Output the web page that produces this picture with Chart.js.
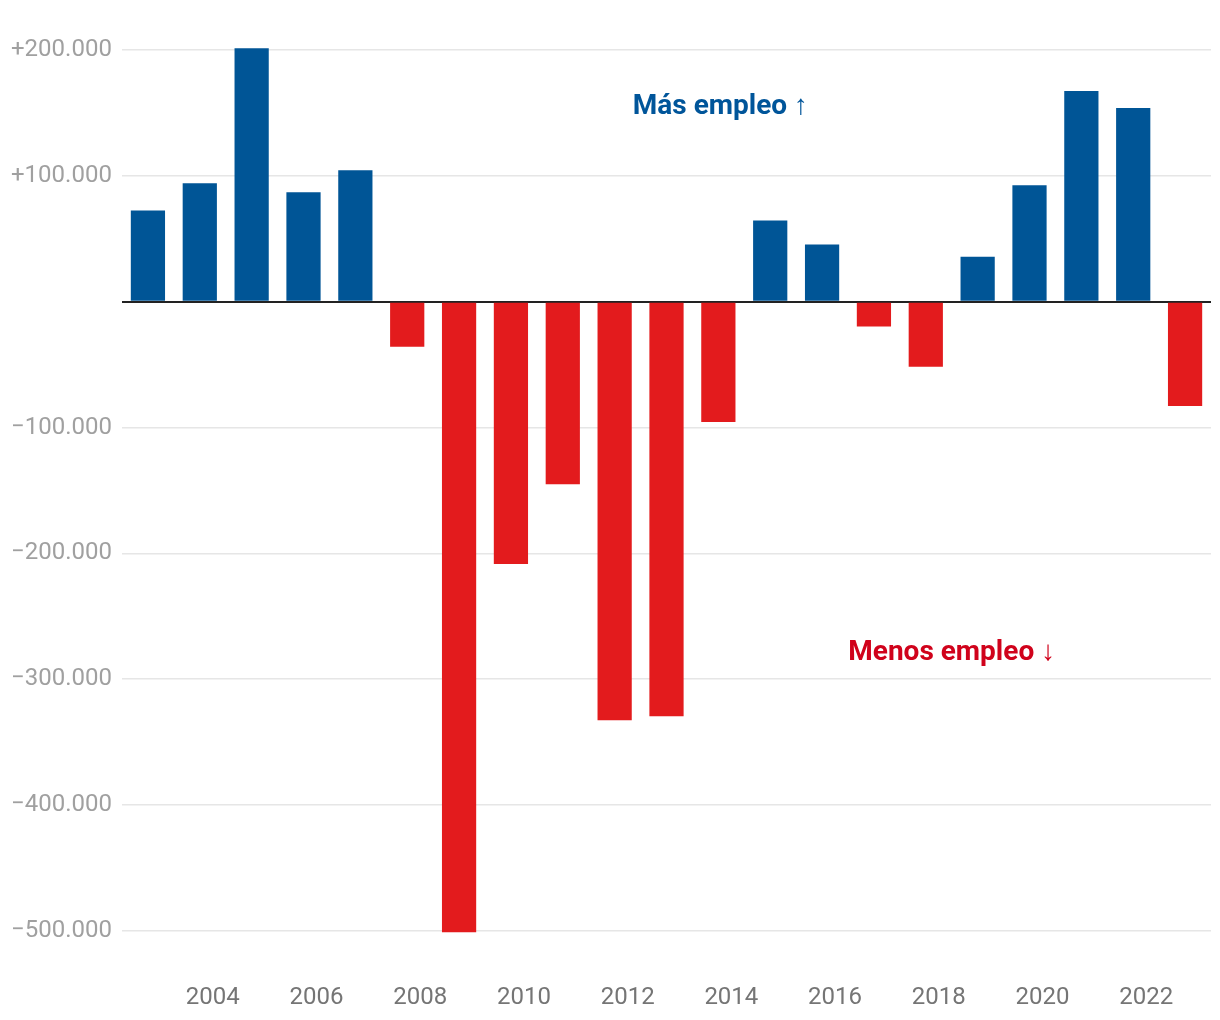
<!DOCTYPE html>
<html>
<head>
<meta charset="utf-8">
<script src="https://cdn.jsdelivr.net/npm/chart.js@4"></script>
<style>
html,body{margin:0;padding:0;background:#fff;}
#wrap{width:1220px;height:1020px;position:relative;}
</style>
</head>
<body>
<div id="wrap"><canvas id="c" width="1220" height="1020"></canvas></div>
<script>
const years = ['2003','2004','2005','2006','2007','2008','2009','2010','2011','2012','2013','2014','2015','2016','2017','2018','2019','2020','2021','2022','2023'];
const employmentChange = [72600, 94200, 201600, 87000, 104500, -35700, -501000, -208400, -145000, -332600, -329400, -95500, 64600, 45500, -19700, -51600, 35900, 92600, 167600, 154000, -82800];
const yTicks = [200000, 100000, 0, -100000, -200000, -300000, -400000, -500000];
const annotationTexts = ['Más empleo ↑', 'Menos empleo ↓'];

const BLUE = '#005596';
const RED = '#E31B1D';

function fmt(v){
  if (v === 0) return '';
  const abs = Math.abs(v).toString().replace(/\B(?=(\d{3})+(?!\d))/g, '.');
  return (v > 0 ? '+' : '\u2212') + abs;
}

const annotationPlugin = {
  id: 'annots',
  afterDatasetsDraw(chart){
    const {ctx, scales:{x, y}} = chart;
    ctx.save();
    ctx.font = 'bold 28px Roboto';
    ctx.textAlign = 'center';
    ctx.textBaseline = 'middle';
    ctx.fillStyle = '#00559A';
    ctx.fillText(annotationTexts[0], x.getPixelForValue(11.04), y.getPixelForValue(154700));
    ctx.fillStyle = '#D0021B';
    ctx.fillText(annotationTexts[1], x.getPixelForValue(15.5), y.getPixelForValue(-279000));
    ctx.restore();
  }
};

new Chart(document.getElementById('c'), {
  type: 'bar',
  data: {
    labels: years,
    datasets: [{
      data: employmentChange,
      backgroundColor: employmentChange.map(v => v >= 0 ? BLUE : RED),
      categoryPercentage: 1,
      barPercentage: 0.66,
      borderWidth: 0
    }]
  },
  options: {
    responsive: false,
    animation: false,
    devicePixelRatio: 1,
    layout: { padding: { left: 11, right: 9, top: 25, bottom: 6 } },
    plugins: { legend: { display: false }, tooltip: { enabled: false } },
    scales: {
      x: {
        grid: { display: false, drawTicks: false },
        border: { display: false },
        ticks: {
          autoSkip: false,
          maxRotation: 0,
          labelOffset: 13,
          padding: 2,
          color: '#757575',
          font: { family: 'Roboto', size: 24 },
          callback: function(val, idx){ const l = years[idx]; return (parseInt(l) % 2 === 0) ? l : ''; }
        }
      },
      y: {
        min: -540000,
        max: 220000,
        afterBuildTicks(scale){ scale.ticks = yTicks.map(v => ({value: v})); },
        afterFit(scale){ scale.width = 111; },
        grid: {
          drawTicks: false,
          color: ctx => ctx.tick && ctx.tick.value === 0 ? '#222222' : '#e6e6e6',
          lineWidth: ctx => ctx.tick && ctx.tick.value === 0 ? 2 : 1.5
        },
        border: { display: false },
        ticks: {
          crossAlign: 'far',
          color: '#a0a0a0',
          font: { family: 'Roboto', size: 24 },
          callback: v => fmt(v)
        }
      }
    }
  },
  plugins: [annotationPlugin]
});
</script>
</body>
</html>
